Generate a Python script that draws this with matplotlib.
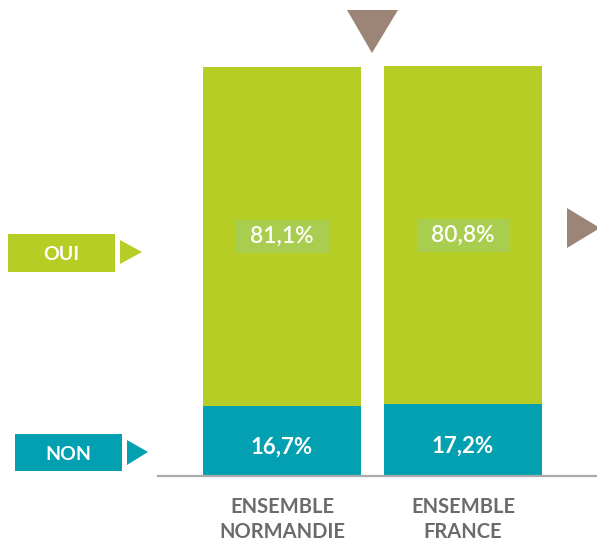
import numpy as np
import matplotlib
matplotlib.use("Agg")
import matplotlib.pyplot as plt
from matplotlib.patches import Rectangle, Polygon

# Données
categories = ["ENSEMBLE\nNORMANDIE", "ENSEMBLE\nFRANCE"]
non = [16.7, 17.2]
oui = [81.1, 80.8]
non_labels = ["16,7%", "17,2%"]
oui_labels = ["81,1%", "80,8%"]

vert = "#b6cd25"
vert_clair = "#a9cd4e"
bleu = "#02a0b0"
brun = "#9c8577"
gris = "#6b6b6b"

plt.rcParams["font.family"] = ["Lato", "DejaVu Sans"]

W, H = 597, 541
fig = plt.figure(figsize=(W / 100, H / 100), dpi=100)

# Axe de décor en pixels (légendes et triangles)
deco = fig.add_axes([0, 0, 1, 1])
deco.set_xlim(0, W)
deco.set_ylim(H, 0)
deco.axis("off")

# Axe principal
base_px, px_per_pct = 476, 4.18
unit_px, x0_px = 181, 282
left_px, right_px = 158, 597
ax = fig.add_axes([left_px / W, (H - base_px) / H,
                   (right_px - left_px) / W, base_px / H])
ax.set_xlim((left_px - x0_px) / unit_px, (right_px - x0_px) / unit_px)
ax.set_ylim(0, base_px / px_per_pct)
ax.patch.set_visible(False)
for s in ["top", "right", "left"]:
    ax.spines[s].set_visible(False)
ax.spines["bottom"].set_color("#aaaaaa")
ax.spines["bottom"].set_linewidth(1.6)
ax.set_yticks([])

x = np.arange(len(categories))
w = 158 / unit_px
ax.bar(x, non, width=w, color=bleu, zorder=2)
ax.bar(x, oui, width=w, bottom=non, color=vert, zorder=2)

ax.set_xticks(x)
ax.set_xticklabels(categories, fontsize=14.5, fontweight="bold", color=gris,
                   linespacing=1.3)
ax.tick_params(axis="x", length=0, pad=15)

for i in range(len(categories)):
    ax.text(x[i], non[i] / 2 - 1.5, non_labels[i], ha="center", va="center",
            color="white", fontsize=16, fontweight="bold", zorder=4)
    yc = non[i] + oui[i] / 2
    bw, bh = 93 / unit_px, 33 / px_per_pct
    ax.add_patch(Rectangle((x[i] - bw / 2, yc - bh / 2), bw, bh,
                           facecolor=vert_clair, edgecolor="none", zorder=3))
    ax.text(x[i], yc, oui_labels[i], ha="center", va="center",
            color="white", fontsize=16.5, fontweight="semibold", zorder=4)

# Légende à gauche
deco.add_patch(Rectangle((8, 234), 107, 38, facecolor=vert, edgecolor="none"))
deco.text(61, 254, "OUI", ha="center", va="center", color="white",
          fontsize=14, fontweight="bold")
deco.add_patch(Polygon([(120, 240), (142, 252), (120, 264)], closed=True,
                       facecolor=vert, edgecolor="none"))
deco.add_patch(Rectangle((15, 434), 107, 37, facecolor=bleu, edgecolor="none"))
deco.text(68, 454, "NON", ha="center", va="center", color="white",
          fontsize=14, fontweight="bold")
deco.add_patch(Polygon([(127, 440), (148, 452), (127, 465)], closed=True,
                       facecolor=bleu, edgecolor="none"))

# Triangles bruns
deco.add_patch(Polygon([(347, 10), (398, 10), (372, 53)], closed=True,
                       facecolor=brun, edgecolor="none"))
deco.add_patch(Polygon([(567, 208), (600, 228), (567, 248)], closed=True,
                       facecolor=brun, edgecolor="none"))

fig.savefig("out.png", dpi=100)
